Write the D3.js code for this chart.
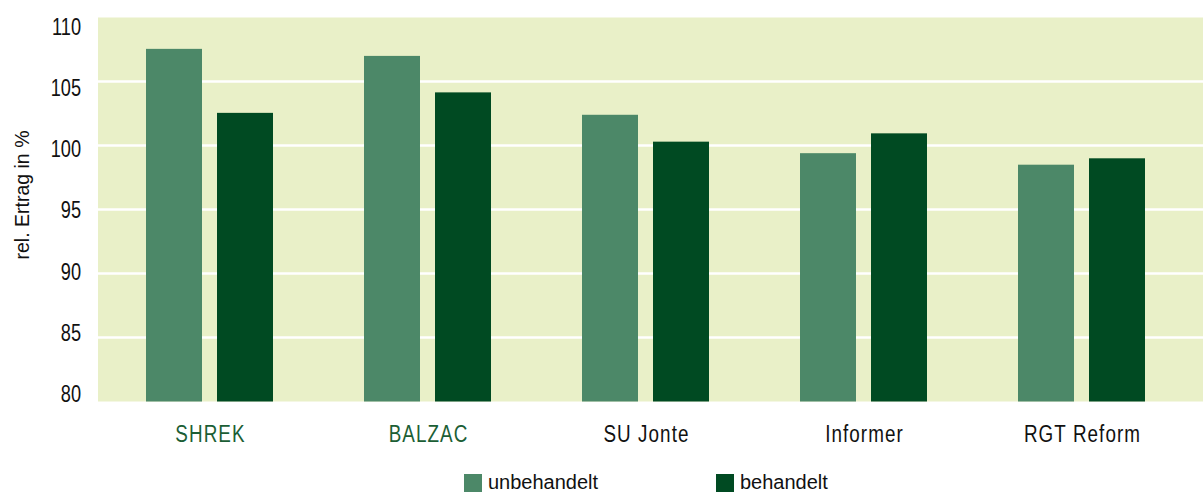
<!DOCTYPE html>
<html>
<head>
<meta charset="utf-8">
<script src="https://cdn.jsdelivr.net/npm/d3@7"></script>
<style>
  body { margin: 0; background: #fff; }
  .tick-label { font-family: "Liberation Sans", Arial, sans-serif; font-size: 23px; fill: #111; }
  .cat-label { font-family: "Liberation Sans", Arial, sans-serif; font-size: 23px; letter-spacing: 1.3px; }
  .legend-text, .axis-title { font-family: "Liberation Sans", Arial, sans-serif; fill: #111; }
</style>
</head>
<body>
<div class="chart"></div>
<script>
// data
var categories = ["SHREK", "BALZAC", "SU Jonte", "Informer", "RGT Reform"];
var series = ["unbehandelt", "behandelt"];
var unbehandelt = [107.55, 107.0, 102.4, 99.4, 98.5];
var behandelt = [102.55, 104.15, 100.3, 100.95, 99.0];
var yTicks = [80, 85, 90, 95, 100, 105, 110];
var highlighted = ["SHREK", "BALZAC"];

var svgWidth = 1203;
var svgHeight = 492;

var plot = {left: 98, right: 1203, top: 17.5, bottom: 401.5};

var colors = {unbehandelt: "#4c8868", behandelt: "#004a22"};

// no narrow font installed, so squeeze the regular one
var narrow = 0.82;

var svg = d3.select(".chart")
    .append("svg")
    .attr("width", svgWidth)
    .attr("height", svgHeight);

// scales
var yScale = d3.scaleLinear()
    .domain([80, 110])
    .range([plot.bottom, plot.top]);

// tick labels in the original sit slightly off the gridlines
var yLabelScale = d3.scaleLinear()
    .domain([80, 110])
    .range([394, 26.3]);

var xScale = d3.scaleBand()
    .domain(categories)
    .range([100.5, 1190.5])
    .padding(0);

var xInner = d3.scaleBand()
    .domain(series)
    .range([45.5, 172.5])
    .paddingInner(15 / 71)
    .paddingOuter(0);

// background
svg.append("rect")
    .attr("x", plot.left)
    .attr("y", plot.top)
    .attr("width", plot.right - plot.left)
    .attr("height", plot.bottom - plot.top)
    .style("fill", "#e9f0c8");

// gridlines
svg.selectAll(".grid")
    .data(yTicks.filter(function(d) { return d > 80 && d < 110; }))
    .enter()
    .append("line")
    .attr("class", "grid")
    .attr("x1", plot.left)
    .attr("x2", plot.right)
    .attr("y1", function(d) { return yScale(d); })
    .attr("y2", function(d) { return yScale(d); })
    .style("stroke", "#fff")
    .style("stroke-width", 2.6);

// y tick labels
svg.selectAll(".tick-label")
    .data(yTicks)
    .enter()
    .append("text")
    .attr("class", "tick-label")
    .attr("transform", function(d) {
        return "translate(81," + yLabelScale(d) + ") scale(0.79,1)";
    })
    .attr("dy", "0.36em")
    .attr("text-anchor", "end")
    .text(function(d) { return d; });

// y axis title
svg.append("text")
    .attr("class", "axis-title")
    .attr("transform", "translate(29,195) rotate(-90)")
    .attr("text-anchor", "middle")
    .style("font-size", "19.5px")
    .text("rel. Ertrag in %");

// bars
var rows = categories.map(function(c, i) {
    return {cat: c, values: [
        {key: "unbehandelt", value: unbehandelt[i]},
        {key: "behandelt", value: behandelt[i]}
    ]};
});

var groups = svg.selectAll(".group")
    .data(rows)
    .enter()
    .append("g")
    .attr("class", "group")
    .attr("transform", function(d) { return "translate(" + xScale(d.cat) + ",0)"; });

groups.selectAll("rect")
    .data(function(d) { return d.values; })
    .enter()
    .append("rect")
    .attr("x", function(d) { return xInner(d.key); })
    .attr("width", xInner.bandwidth())
    .attr("y", function(d) { return yScale(d.value); })
    .attr("height", function(d) { return yScale(80) - yScale(d.value); })
    .style("fill", function(d) { return colors[d.key]; });

// category labels
svg.selectAll(".cat-label")
    .data(categories)
    .enter()
    .append("text")
    .attr("class", "cat-label")
    .attr("transform", function(d) {
        return "translate(" + (xScale(d) + xScale.bandwidth() / 2 + 1) + ",441.5) scale(" + narrow + ",1)";
    })
    .attr("text-anchor", "middle")
    .style("fill", function(d) { return highlighted.indexOf(d) >= 0 ? "#1b5e35" : "#111"; })
    .text(function(d) { return d; });

// legend
var legendX = [464, 716];
var legend = svg.selectAll(".legend")
    .data(series)
    .enter()
    .append("g")
    .attr("class", "legend")
    .attr("transform", function(d, i) { return "translate(" + legendX[i] + ",474)"; });

legend.append("rect")
    .attr("width", 18)
    .attr("height", 18)
    .style("fill", function(d) { return colors[d]; });

legend.append("text")
    .attr("class", "legend-text")
    .attr("x", 24)
    .attr("y", 15)
    .style("font-size", "20px")
    .text(function(d) { return d; });
</script>
</body>
</html>
